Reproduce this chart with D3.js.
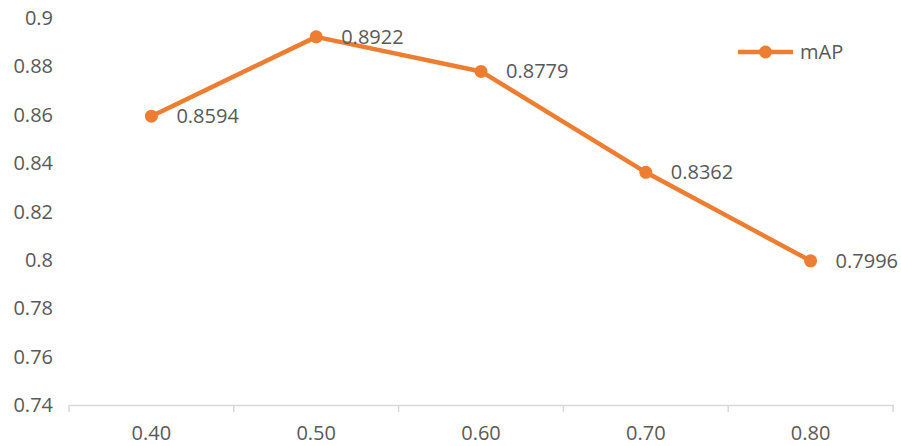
<!DOCTYPE html>
<html><head><meta charset="utf-8">
<script src="https://cdn.jsdelivr.net/npm/d3@7"></script>
<style>body{margin:0;background:#fff}svg{display:block}text{font-family:"Open Sans",sans-serif}</style>
</head><body>
<svg id="c" width="901" height="446"></svg>
<script>
const categories = ["0.40","0.50","0.60","0.70","0.80"];
const values = [0.8594,0.8922,0.8779,0.8362,0.7996];
const yTicks = [0.74,0.76,0.78,0.8,0.82,0.84,0.86,0.88,0.9];
const seriesName = "mAP";

const svg = d3.select("#c");
const color = "#ED7D31", txt = "#595959", fs = 20;
const x = d3.scaleBand().domain(categories).range([69, 893]);
const y = d3.scaleLinear().domain([0.74, 0.9]).range([405, 18]);

// y labels
svg.append("g").selectAll("text").data(yTicks).join("text")
  .attr("x", 53).attr("y", d => y(d)).attr("dy", "0.35em")
  .attr("text-anchor", "end").attr("font-size", fs).attr("fill", txt)
  .text(d => d3.format("")(+d.toFixed(2)));

// x axis
const xa = svg.append("g").attr("transform", "translate(0,405)")
  .call(d3.axisBottom(x).tickSize(0).tickPadding(21));
xa.select(".domain").attr("stroke", "#d9d9d9").attr("stroke-width", 1.5);
xa.selectAll("text").attr("font-size", fs).attr("fill", txt).attr("font-family", '"Open Sans",sans-serif');
const bounds = categories.map(c => x(c)).concat([x.range()[1]]);
xa.selectAll("line.tk").data(bounds).join("line").attr("class","tk")
  .attr("x1", d => d).attr("x2", d => d).attr("y1", 0).attr("y2", 7)
  .attr("stroke", "#d9d9d9").attr("stroke-width", 1.5);

const cx = d => x(d) + x.bandwidth()/2;
const line = d3.line().x((d,i) => cx(categories[i])).y(d => y(d));
svg.append("path").datum(values).attr("d", line).attr("fill","none")
  .attr("stroke", color).attr("stroke-width", 4.5).attr("stroke-linejoin","round");
svg.append("g").selectAll("circle").data(values).join("circle")
  .attr("cx", (d,i) => cx(categories[i])).attr("cy", d => y(d)).attr("r", 6.5).attr("fill", color);
svg.append("g").selectAll("text").data(values).join("text")
  .attr("x", (d,i) => cx(categories[i]) + 25).attr("y", d => y(d)).attr("dy","0.35em")
  .attr("font-size", fs).attr("fill", txt).text(d => d.toFixed(4));

// legend
const lg = svg.append("g").attr("transform","translate(738,52)");
lg.append("line").attr("x1",0).attr("x2",55).attr("stroke",color).attr("stroke-width",4.5);
lg.append("circle").attr("cx",27.5).attr("r",6.5).attr("fill",color);
lg.append("text").attr("x",62).attr("dy","0.35em").attr("font-size",fs).attr("fill",txt).text(seriesName);
</script>
</body></html>
